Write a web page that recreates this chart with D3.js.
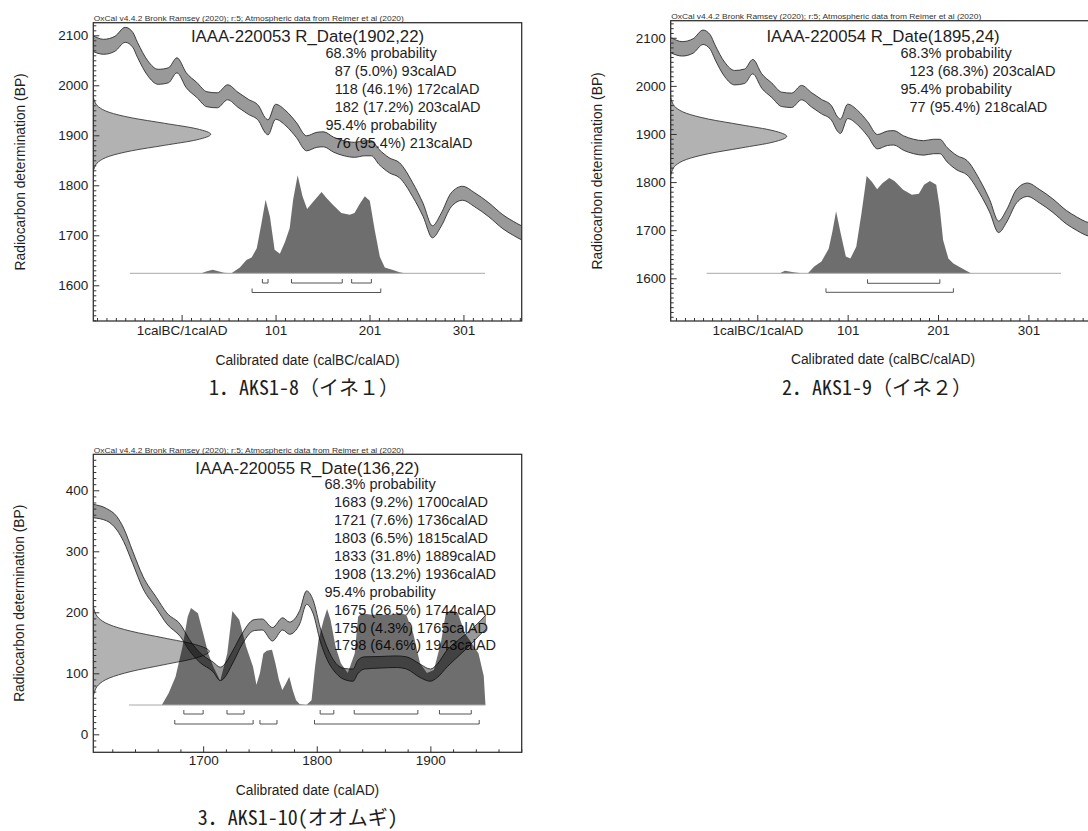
<!DOCTYPE html>
<html>
<head>
<meta charset="utf-8">
<script src="https://cdn.jsdelivr.net/npm/d3@7"></script>
<style>
    body{margin:0;background:#fff;}
    svg{display:block;font-family:"Liberation Sans",Arial,sans-serif;}
</style>
</head>
<body>
<svg id="chart" width="1088" height="831"></svg>
<script>

// IntCal20 band for the 1calBC/1calAD plots (year, BP, half width)
var calYearsA = [-94,-82,-70,-59,-51,-46,-35,-24,-13,-4,6,17,28,39,50,61,72,83,90,93,101,112,123,134,145,152,163,174,185,196,203,211,222,233,247,258,268,277,288,300,313,328,343,354,364,375];
var calBPA    = [2084,2077,2083,2101,2091,2071,2034,2017,2020,2040,2010,1991,1972,1970,1986,1971,1957,1944,1920,1916,1947,1934,1911,1884,1891,1892,1881,1874,1871,1874,1874,1857,1840,1830,1791,1751,1707,1730,1771,1784,1771,1751,1727,1714,1704,1698];
var calErrA   = [16,15,15,15,15,15,15,15,15,15,15,15,15,15,15,15,15,15,15,15,15,15,15,15,15,15,15,15,15,15,15,15,15,15,14,13,12,13,14,14,14,14,14,14,14,14];

// IntCal20 / bomb curve for the calAD plot
var calYearsB = [1603,1615,1624,1630,1638,1647,1659,1668,1680,1688,1697,1709,1715,1727,1733,1745,1752,1761,1770,1776,1785,1791,1797,1803,1809,1817,1824,1832,1836,1842,1855,1870,1879,1891,1900,1906,1915,1927,1936,1944,1949];
var calBPB    = [366,360,346,327,290,249,215,190,170,146,126,110,99,130,152,179,180,164,181,174,192,224,208,164,133,108,99,97,110,117,118,119,117,104,97,104,125,145,160,175,184];
var calErrB   = [11,10,11,11,10,10,9,9,10,9,8,8,11,10,9,9,9,11,10,10,11,11,11,11,10,8,9,10,11,10,9.5,9.5,10,11,10,11,14,13,12,11,12];

// shape of the R_Date normal curve (sigma, relative height)
var rDateShape = [[-3.4,0],[-3,0.011],[-2.5,0.044],[-2,0.135],[-1.5,0.325],[-1,0.607],[-0.5,0.882],[0,1],[0.5,0.882],[1,0.607],[1.5,0.325],[2,0.135],[2.5,0.044],[3,0.011],[3.4,0]];

// calibrated distributions (year, relative height)
var dist1 = [[22,0],[28,0.02],[34,0.037],[40,0.02],[46,0.005],[54,0],[63,0.06],[70,0.136],[75.5,0.16],[81,0.256],[86,0.51],[90.4,0.75],[95,0.58],[100,0.24],[105.6,0.2],[111,0.32],[116,0.46],[119.7,0.75],[124.5,1],[129.7,0.785],[134.6,0.655],[141,0.73],[150,0.83],[155,0.77],[162,0.7],[171,0.615],[180,0.597],[185,0.615],[190.7,0.71],[196,0.785],[201.3,0.74],[206.6,0.44],[212,0.17],[217.3,0.06],[226,0.034],[233,0.01],[238.6,0]];
var dist2 = [[26,0],[31.6,0.027],[41,0.01],[50,0],[57,0],[64,0.07],[72,0.12],[80,0.25],[84,0.42],[88.2,0.63],[93.2,0.41],[99,0.17],[104,0.15],[110.5,0.27],[116.3,0.61],[122,0.99],[128,0.93],[133.6,0.855],[139.4,0.915],[147,0.97],[152.8,0.94],[162.4,0.85],[172,0.8],[179.8,0.81],[185.5,0.9],[192,0.94],[199,0.9],[202.7,0.68],[206.6,0.34],[212.4,0.15],[218,0.1],[227.8,0.05],[237.4,0]];
var dist3 = [[1663.6,0],[1669.6,0.12],[1675.7,0.29],[1681.8,0.6],[1686.4,0.91],[1689.3,1],[1695.4,0.945],[1700,0.74],[1704.5,0.53],[1709,0.395],[1715,0.25],[1721.2,0.53],[1725.7,0.97],[1731.8,0.88],[1737.9,0.6],[1743.9,0.395],[1746.9,0.21],[1750,0.33],[1753,0.53],[1756,0.56],[1760.6,0.57],[1763.6,0.43],[1766.7,0.26],[1769.7,0.155],[1772.7,0.22],[1775.8,0.29],[1778.8,0.155],[1781.8,0.05],[1784.9,0.01],[1790.9,0],[1795.4,0.05],[1798.5,0.395],[1801.5,0.67],[1806.1,0.88],[1809.1,0.99],[1812.1,0.88],[1816.6,0.6],[1821.2,0.43],[1827.3,0.33],[1833.4,0.53],[1836.4,0.91],[1839.4,0.945],[1848.5,0.93],[1854.6,0.93],[1863.7,0.93],[1872.8,0.945],[1878.8,0.93],[1884.9,0.74],[1890.9,0.43],[1897,0.33],[1903.1,0.36],[1909.2,0.64],[1913.6,0.945],[1918.2,0.98],[1924.3,0.945],[1930.4,0.74],[1936.4,0.64],[1942.4,0.53],[1947,0.3],[1948.5,0]];

// probability ranges: [from, percent, to]
var ranges68_1 = [[87,"5.0",93],[118,"46.1",172],[182,"17.2",203]];
var ranges95_1 = [[76,"95.4",213]];
var ranges68_2 = [[123,"68.3",203]];
var ranges95_2 = [[77,"95.4",218]];
var ranges68_3 = [[1683,"9.2",1700],[1721,"7.6",1736],[1803,"6.5",1815],[1833,"31.8",1889],[1908,"13.2",1936]];
var ranges95_3 = [[1675,"26.5",1744],[1750,"4.3",1765],[1798,"64.6",1943]];

// axis ticks
var xTicksA = [1,101,201,301];
var xLabelsA = ["1calBC/1calAD","101","201","301"];
var xTicksB = [1700,1800,1900];
var xLabelsB = ["1700","1800","1900"];
var yTicksA = [1600,1700,1800,1900,2000,2100];
var yTicksB = [0,100,200,300,400];

var header = "OxCal v4.4.2 Bronk Ramsey (2020); r:5; Atmospheric data from Reimer et al (2020)";

var panels = [
    {
        left: 93.3, right: 521.7, top: 22.7, bottom: 321,
        xDomain: [-93, 363], yDomain: [1528.6, 2125.2],
        xTicks: xTicksA, xLabels: xLabelsA, xMinor: d3.range(-89, 364, 10), xPad: 4.5,
        yTicks: yTicksA, yMinor: d3.range(1530, 2126, 10),
        cal: calYearsA.map(function(a, i){ return {year: a, bp: calBPA[i], err: calErrA[i]}; }),
        mean: 1902, sd: 22, gaussWidth: 117.4,
        dist: dist1, baseline: 273.3, distHeight: 98, lineFrom: -54, lineTo: 324,
        r68: ranges68_1, r95: ranges95_1, b68: 283, b95: 292.5,
        title: "IAAA-220053 R_Date(1902,22)", titleX: 307.5, titleY: 41.7,
        resX: 325.4, resIndent: 9.3, resY: 57.7, resStep: 18,
        xTitle: "Calibrated date (calBC/calAD)", xTitleX: 307.5, xTitleY: 365, yTitleX: 25,
        caption: "1．AKS1-8（イネ１）", capX: 304, capY: 395
    },
    {
        left: 670.7, right: 1095.3, top: 20.7, bottom: 321,
        xDomain: [-94.8, 375], yDomain: [1511.2, 2135.5],
        xTicks: xTicksA, xLabels: xLabelsA, xMinor: d3.range(-89, 376, 10), xPad: 4.5,
        yTicks: yTicksA, yMinor: d3.range(1520, 2136, 10),
        cal: calYearsA.map(function(a, i){ return {year: a, bp: calBPA[i], err: calErrA[i]}; }),
        mean: 1895, sd: 24, gaussWidth: 116,
        dist: dist2, baseline: 273.3, distHeight: 98.3, lineFrom: -55, lineTo: 337,
        r68: ranges68_2, r95: ranges95_2, b68: 283.3, b95: 292.3,
        title: "IAAA-220054 R_Date(1895,24)", titleX: 883, titleY: 41.7,
        resX: 900.4, resIndent: 9.1, resY: 57.7, resStep: 18,
        xTitle: "Calibrated date (calBC/calAD)", xTitleX: 883, xTitleY: 363.5, yTitleX: 602,
        caption: "2．AKS1-9（イネ２）", capX: 877, capY: 395
    },
    {
        left: 93.3, right: 521.7, top: 454.3, bottom: 752.3,
        xDomain: [1603.3, 1980.4], yDomain: [-29.5, 459],
        xTicks: xTicksB, xLabels: xLabelsB, xMinor: d3.range(1620, 1981, 20), xPad: 3,
        yTicks: yTicksB, yMinor: d3.range(-20, 459, 10),
        cal: calYearsB.map(function(a, i){ return {year: a, bp: calBPB[i], err: calErrB[i]}; }),
        mean: 136, sd: 22, gaussWidth: 116,
        dist: dist3, baseline: 705, distHeight: 97, lineFrom: 1634.8, lineTo: 1948.5,
        r68: ranges68_3, r95: ranges95_3, b68: 714, b95: 724,
        title: "IAAA-220055 R_Date(136,22)", titleX: 307.3, titleY: 474,
        resX: 324.4, resIndent: 9.6, resY: 489.3, resStep: 17.9,
        xTitle: "Calibrated date (calAD)", xTitleX: 307.5, xTitleY: 795, yTitleX: 24,
        caption: "3．AKS1-10(オオムギ)", capX: 297.8, capY: 825
    }
];

var svg = d3.select("#chart");

function drawPanel(p, k) {
    var g = svg.append("g");
    var x = d3.scaleLinear().domain(p.xDomain).range([p.left, p.right]);
    var y = d3.scaleLinear().domain(p.yDomain).range([p.bottom, p.top]);
    var yd = d3.scaleLinear().domain([0, 1]).range([p.baseline, p.baseline - p.distHeight]);

    g.append("clipPath").attr("id", "clip" + k)
        .append("rect")
        .attr("x", p.left).attr("y", p.top)
        .attr("width", p.right - p.left).attr("height", p.bottom - p.top);

    // header above the frame
    g.append("text")
        .attr("x", p.left + 0.5).attr("y", p.top - 1.6)
        .attr("font-size", 8).attr("fill", "#333")
        .attr("textLength", 310).attr("lengthAdjust", "spacingAndGlyphs")
        .text(header);

    // result text
    g.append("text")
        .attr("x", p.titleX).attr("y", p.titleY)
        .attr("text-anchor", "middle").attr("font-size", 16.8).attr("fill", "#1e1e1e")
        .text(p.title);

    var lines = [{t: "68.3% probability", ind: 0}];
    p.r68.forEach(function(r){ lines.push({t: r[0] + " (" + r[1] + "%) " + r[2] + "calAD", ind: 1}); });
    lines.push({t: "95.4% probability", ind: 0});
    p.r95.forEach(function(r){ lines.push({t: r[0] + " (" + r[1] + "%) " + r[2] + "calAD", ind: 1}); });

    g.selectAll(".res").data(lines).enter().append("text")
        .attr("class", "res")
        .attr("x", function(d){ return p.resX + d.ind * p.resIndent; })
        .attr("y", function(d, i){ return p.resY + i * p.resStep; })
        .attr("font-size", 14.5).attr("fill", "#1e1e1e")
        .text(function(d){ return d.t; });

    var plot = g.append("g").attr("clip-path", "url(#clip" + k + ")");

    // radiocarbon date
    var gArea = d3.area().curve(d3.curveMonotoneY)
        .y(function(d){ return y(p.mean + d[0] * p.sd); })
        .x0(p.left)
        .x1(function(d){ return p.left + d[1] * p.gaussWidth; });
    var gLine = d3.line().curve(d3.curveMonotoneY)
        .y(function(d){ return y(p.mean + d[0] * p.sd); })
        .x(function(d){ return p.left + d[1] * p.gaussWidth; });
    plot.append("path").datum(rDateShape)
        .attr("d", gArea).attr("fill", "#000").attr("fill-opacity", 0.3);
    plot.append("path").datum(rDateShape)
        .attr("d", gLine).attr("fill", "none").attr("stroke", "#3a3a3a").attr("stroke-width", 0.9);

    // calibration curve band
    var band = d3.area().curve(d3.curveMonotoneX)
        .x(function(d){ return x(d.year); })
        .y0(function(d){ return y(d.bp - d.err); })
        .y1(function(d){ return y(d.bp + d.err); });
    var upper = d3.line().curve(d3.curveMonotoneX)
        .x(function(d){ return x(d.year); })
        .y(function(d){ return y(d.bp + d.err); });
    var lower = d3.line().curve(d3.curveMonotoneX)
        .x(function(d){ return x(d.year); })
        .y(function(d){ return y(d.bp - d.err); });
    plot.append("path").datum(p.cal)
        .attr("d", band).attr("fill", "#000").attr("fill-opacity", 0.4);
    [upper, lower].forEach(function(fn){
        plot.append("path").datum(p.cal)
            .attr("d", fn).attr("fill", "none").attr("stroke", "#2e2e2e").attr("stroke-width", 0.9);
    });

    // calibrated distribution
    var dArea = d3.area()
        .x(function(d){ return x(d[0]); })
        .y0(p.baseline)
        .y1(function(d){ return yd(d[1]); });
    plot.append("path").datum(p.dist)
        .attr("d", dArea).attr("fill", "#000").attr("fill-opacity", 0.57);
    plot.append("line")
        .attr("x1", x(p.lineFrom)).attr("x2", x(p.lineTo))
        .attr("y1", p.baseline).attr("y2", p.baseline)
        .attr("stroke", "#a8a8a8").attr("stroke-width", 1);

    // range brackets
    function bracket(r, yy) {
        return "M" + x(r[0]) + "," + (yy - 4) + "V" + yy + "H" + x(r[2]) + "V" + (yy - 4);
    }
    plot.selectAll(".b68").data(p.r68).enter().append("path")
        .attr("d", function(r){ return bracket(r, p.b68); })
        .attr("fill", "none").attr("stroke", "#555").attr("stroke-width", 1);
    plot.selectAll(".b95").data(p.r95).enter().append("path")
        .attr("d", function(r){ return bracket(r, p.b95); })
        .attr("fill", "none").attr("stroke", "#555").attr("stroke-width", 1);

    // axes, ticks point inward
    var xAxis = d3.axisBottom(x)
        .tickValues(p.xTicks)
        .tickFormat(function(d, i){ return p.xLabels[i]; })
        .tickSizeInner(-6).tickSizeOuter(0).tickPadding(p.xPad);
    var xMinor = d3.axisBottom(x)
        .tickValues(p.xMinor.filter(function(v){ return p.xTicks.indexOf(v) < 0; }))
        .tickFormat("").tickSizeInner(-3).tickSizeOuter(0);
    var yAxis = d3.axisLeft(y)
        .tickValues(p.yTicks).tickFormat(d3.format("d"))
        .tickSizeInner(-6).tickSizeOuter(0).tickPadding(5);
    var yMinor = d3.axisLeft(y)
        .tickValues(p.yMinor.filter(function(v){ return p.yTicks.indexOf(v) < 0; }))
        .tickFormat("").tickSizeInner(-3).tickSizeOuter(0);

    [xAxis, xMinor].forEach(function(ax){
        g.append("g").attr("transform", "translate(0," + p.bottom + ")").call(ax)
            .call(function(a){ a.select(".domain").remove(); });
    });
    [yAxis, yMinor].forEach(function(ax){
        g.append("g").attr("transform", "translate(" + p.left + ",0)").call(ax)
            .call(function(a){ a.select(".domain").remove(); });
    });
    g.selectAll(".tick line").attr("stroke", "#333");
    g.selectAll(".tick text")
        .attr("font-size", 13.5).attr("fill", "#1e1e1e")
        .style("font-family", "'Liberation Sans',Arial,sans-serif");

    g.append("rect")
        .attr("x", p.left).attr("y", p.top)
        .attr("width", p.right - p.left).attr("height", p.bottom - p.top)
        .attr("fill", "none").attr("stroke", "#333").attr("stroke-width", 1.3);

    // axis titles
    g.append("text")
        .attr("x", p.xTitleX).attr("y", p.xTitleY)
        .attr("text-anchor", "middle").attr("font-size", 13.8).attr("fill", "#1e1e1e")
        .text(p.xTitle);
    g.append("text")
        .attr("transform", "translate(" + p.yTitleX + "," + ((p.top + p.bottom) / 2) + ") rotate(-90)")
        .attr("text-anchor", "middle").attr("font-size", 13.8).attr("fill", "#1e1e1e")
        .text("Radiocarbon determination (BP)");

    g.append("text")
        .attr("x", p.capX).attr("y", p.capY)
        .attr("text-anchor", "middle").attr("font-size", 20).attr("fill", "#1e1e1e")
        .style("font-family", "'Noto Sans Mono CJK JP','Noto Sans CJK JP',sans-serif")
        .text(p.caption);
}

panels.forEach(drawPanel);

</script>
</body>
</html>
